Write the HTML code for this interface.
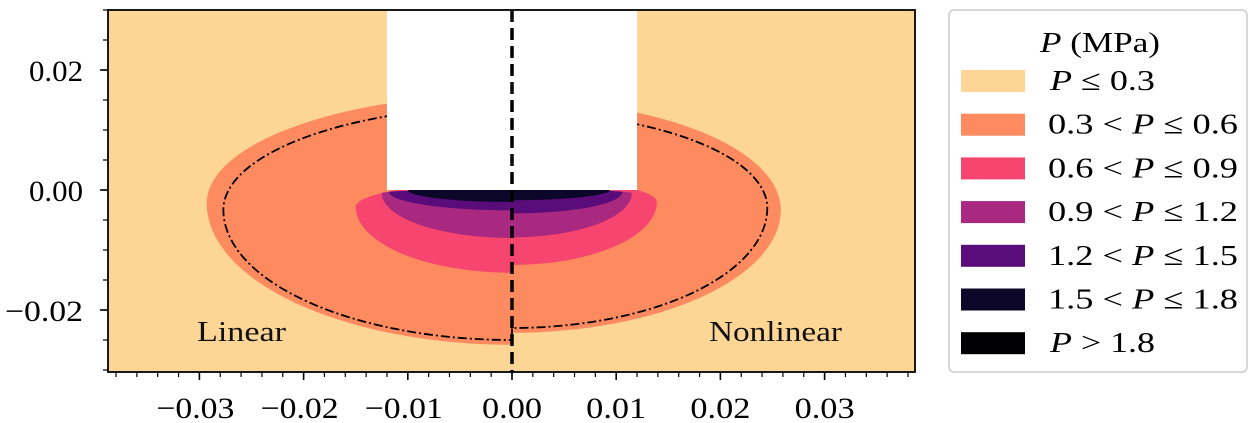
<!DOCTYPE html>
<html><head><meta charset="utf-8"><style>
body{margin:0;background:#fff;}
svg{display:block;font-family:"Liberation Serif",serif;}
</style></head><body>
<svg id="chart" width="1254" height="423" viewBox="0 0 1254 423" xmlns="http://www.w3.org/2000/svg">
<defs><clipPath id="clip"><rect x="108" y="10" width="807" height="362"/></clipPath></defs>
<g id="plot" clip-path="url(#clip)"></g>
<g id="axes"></g>
<g id="legend"></g>
</svg>
<script>
const levelLabels=["P ≤ 0.3","0.3 < P ≤ 0.6","0.6 < P ≤ 0.9","0.9 < P ≤ 1.2","1.2 < P ≤ 1.5","1.5 < P ≤ 1.8","P > 1.8"];
const levelColors=["#fdd696","#fe8b5f","#f6456e","#a8297f","#5a0c7a","#0c0629","#000004"];
// contour half-shapes (data units): [extent x, y at extent, top y at x=0, bottom y at x=0]
const leftLevels=[[-0.0293,-0.0022,0.0160,-0.0258],[-0.015,-0.0028,0.0013,-0.0138],[-0.0125,-0.0005,0.0,-0.0080],[-0.0118,-0.0003,0.0,-0.0034],[-0.0100,0.0,0.0,-0.0020]];
const rightLevels=[[0.0258,-0.0033,0.0150,-0.0238],[0.0139,-0.0020,0.0020,-0.0125],[0.0115,-0.0005,0.0,-0.0079],[0.0106,-0.0003,0.0,-0.0039],[0.0094,0.0,0.0,-0.0017]];
const linearContour=[-0.0277,-0.0033,0.0140,-0.0250];
const nonlinearContour=[0.0245,-0.0030,0.0130,-0.0230];
const xTicks=[-0.03,-0.02,-0.01,0.00,0.01,0.02,0.03];
const xTickLabels=["−0.03","−0.02","−0.01","0.00","0.01","0.02","0.03"];
const yTicks=[0.02,0.00,-0.02];
const yTickLabels=["0.02","0.00","−0.02"];
const indenter=[-0.012,0.012,0.0,0.03];

const NS="http://www.w3.org/2000/svg";
const X=v=>512+v*10420;
const Y=v=>190-v*6000;
const plot=document.getElementById('plot'),axes=document.getElementById('axes'),legend=document.getElementById('legend');
function mk(tag,attrs,parent){const e=document.createElementNS(NS,tag);for(const k in attrs)e.setAttribute(k,attrs[k]);parent.appendChild(e);return e;}
function halfPath(s,closed){
  const [xe,ym,yt,yb]=s;
  const rx=Math.abs(X(xe)-X(0));const ryT=Math.abs(Y(ym)-Y(yt));const ryB=Math.abs(Y(yb)-Y(ym));
  const sw=xe<0?0:1;
  let d=`M${X(0)},${Y(yt)} A${rx},${ryT} 0 0 ${sw} ${X(xe)},${Y(ym)} A${rx},${ryB} 0 0 ${sw} ${X(0)},${Y(yb)}`;
  if(closed)d+=' Z';return d;
}
function lblW(s){return s.startsWith('−')?78:54;}
let bg=mk('rect',{x:108,y:10,width:807,height:362,fill:levelColors[0]},plot);


leftLevels.forEach((s,i)=>{const p=mk('path',{d:halfPath(s,true),fill:levelColors[i+1]},plot);

});
rightLevels.forEach((s,i)=>{const p=mk('path',{d:halfPath(s,true),fill:levelColors[i+1]},plot);

});
let lc=mk('path',{d:halfPath(linearContour,false),fill:'none',stroke:'#000','stroke-width':1.8,'stroke-dasharray':'9 3 2 3'},plot);


let nc=mk('path',{d:halfPath(nonlinearContour,false)+` L${X(0)},${Y(linearContour[3])}`,fill:'none',stroke:'#000','stroke-width':1.8,'stroke-dasharray':'9 3 2 3'},plot);


let ind=mk('rect',{x:X(indenter[0]),y:Y(indenter[3]),width:X(indenter[1])-X(indenter[0]),height:Y(indenter[2])-Y(indenter[3]),fill:'#fff'},plot);


let sym=mk('line',{x1:X(0),x2:X(0),y1:10,y2:372,stroke:'#000','stroke-width':3.5,'stroke-dasharray':'12 6'},plot);


let t1=mk('text',{x:197,y:341,'font-size':28,textLength:89,lengthAdjust:'spacingAndGlyphs',fill:'#111'},plot);t1.textContent='Linear';


let t2=mk('text',{x:709,y:341,'font-size':28,textLength:133,lengthAdjust:'spacingAndGlyphs',fill:'#111'},plot);t2.textContent='Nonlinear';


let fr=mk('rect',{x:108,y:10,width:807,height:362,fill:'none',stroke:'#000','stroke-width':1.8},axes);


for(let v=-0.038;v<=0.0385;v+=0.002){const px=X(v);mk('line',{x1:px,x2:px,y1:372,y2:377,stroke:'#000','stroke-width':1.2},axes);}
for(let v=-0.030;v<=0.0301;v+=0.005){const py=Y(v);mk('line',{x1:103,x2:108,y1:py,y2:py,stroke:'#000','stroke-width':1.2},axes);}
xTicks.forEach((v,i)=>{mk('line',{x1:X(v),x2:X(v),y1:372,y2:380,stroke:'#000','stroke-width':1.6},axes);
const s=xTickLabels[i];const w=lblW(s)+(s.startsWith('−')?0:6);
const t=mk('text',{x:X(v)-(s.startsWith('−')?w/2+4:w/2),y:418,'font-size':30,textLength:w,lengthAdjust:'spacingAndGlyphs'},axes);t.textContent=s;

});
yTicks.forEach((v,i)=>{mk('line',{x1:100,x2:108,y1:Y(v),y2:Y(v),stroke:'#000','stroke-width':1.6},axes);
const s=yTickLabels[i];const w=lblW(s);
const t=mk('text',{x:83-w,y:Y(v)+11,'font-size':30,textLength:w,lengthAdjust:'spacingAndGlyphs'},axes);t.textContent=s;

});
let lb=mk('rect',{x:949,y:10,width:298,height:362,rx:5,fill:'#fff',stroke:'#ccc','stroke-width':1.5},legend);


let lt=mk('text',{x:1040,y:52,'font-size':29,textLength:120,lengthAdjust:'spacingAndGlyphs'},legend);
lt.innerHTML='<tspan font-style="italic">P</tspan> (MPa)';


levelLabels.forEach((lab,i)=>{const cy=81+i*43.7;
const sw=mk('rect',{x:961,y:cy-11,width:64,height:22,fill:levelColors[i]},legend);


const short=lab.startsWith('P');
const t=mk('text',{x:short?1050:1048,y:cy+9,'font-size':29,textLength:short?105:190,lengthAdjust:'spacingAndGlyphs'},legend);
t.innerHTML=lab.replace('P','<tspan font-style="italic">P</tspan>');

});
</script>
</body></html>
